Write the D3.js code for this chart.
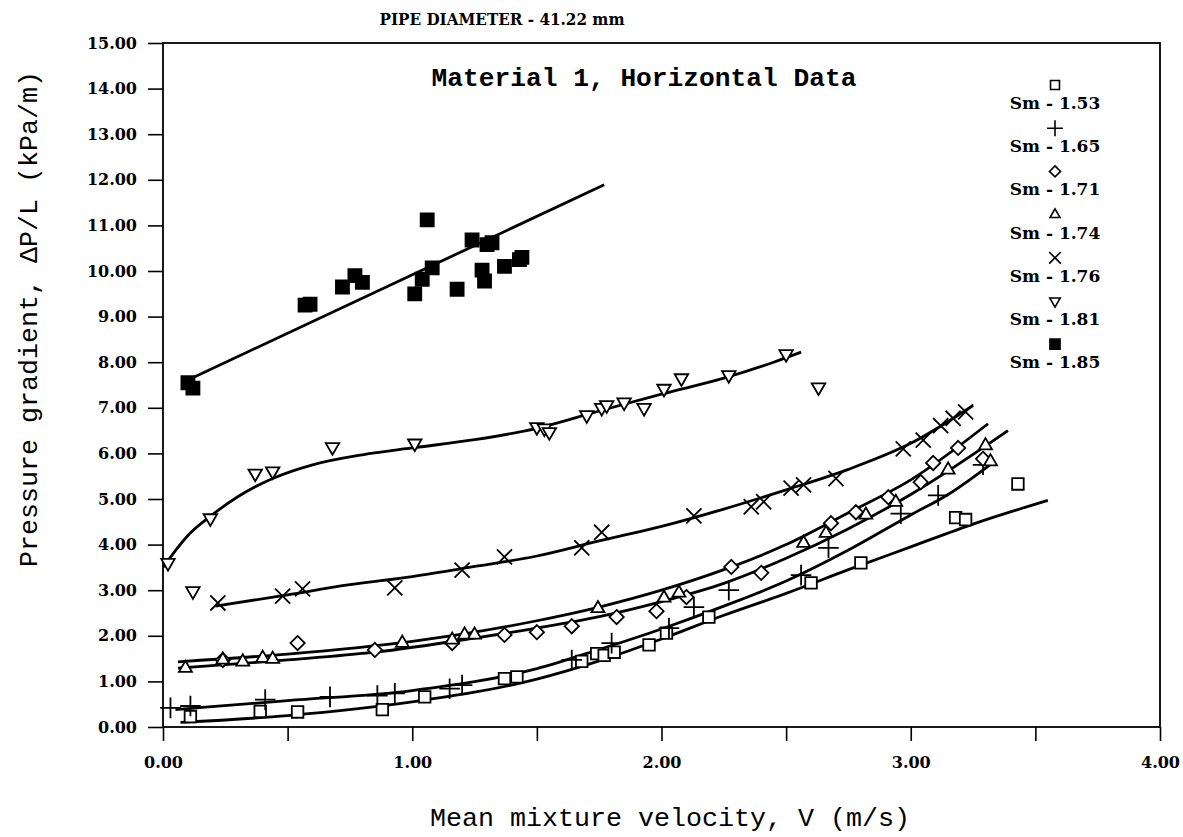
<!DOCTYPE html>
<html>
<head>
<script src="https://d3js.org/d3.v7.min.js"></script>
<style>
  body { margin: 0; background: #fff; }
  .tick text { font-family: "DejaVu Serif", serif; font-weight: bold; font-size: 16px; fill: #000; }
  .tick line { stroke: #000; stroke-width: 1.6; }
</style>
</head>
<body>
<div id="chart"></div>
<script>
// ---- data ----
var sm153 = [[0.11,0.23],[0.39,0.34],[0.54,0.33],[0.88,0.38],[1.05,0.66],[1.37,1.06],[1.42,1.1],[1.68,1.44],[1.74,1.61],[1.77,1.57],[1.81,1.64],[1.95,1.8],[2.02,2.06],[2.19,2.41],[2.60,3.16],[2.80,3.6],[3.18,4.59],[3.22,4.55],[3.43,5.33]];
var sm165 = [[0.03,0.42],[0.11,0.46],[0.41,0.6],[0.67,0.66],[0.86,0.69],[0.93,0.74],[1.15,0.84],[1.20,0.92],[1.64,1.47],[1.80,1.84],[2.03,2.17],[2.13,2.63],[2.27,3.0],[2.56,3.33],[2.67,3.93],[2.96,4.68],[3.11,5.08],[3.29,5.75]];
var sm171 = [[0.24,1.47],[0.54,1.84],[0.85,1.69],[1.16,1.84],[1.37,2.02],[1.50,2.08],[1.64,2.21],[1.82,2.41],[1.98,2.54],[2.10,2.85],[2.28,3.51],[2.40,3.38],[2.68,4.47],[2.78,4.71],[2.91,5.04],[3.04,5.37],[3.09,5.79],[3.19,6.12],[3.29,5.88]];
var sm174 = [[0.09,1.29],[0.24,1.47],[0.32,1.43],[0.40,1.51],[0.44,1.49],[0.96,1.84],[1.16,1.91],[1.21,2.02],[1.25,2.02],[1.745,2.6],[2.01,2.83],[2.07,2.94],[2.57,4.03],[2.66,4.25],[2.82,4.65],[2.94,4.93],[3.15,5.64],[3.30,6.17],[3.32,5.82]];
var sm176 = [[0.22,2.72],[0.48,2.87],[0.56,3.03],[0.93,3.05],[1.20,3.44],[1.37,3.73],[1.68,3.93],[1.76,4.27],[2.13,4.63],[2.36,4.83],[2.41,4.94],[2.52,5.24],[2.57,5.31],[2.70,5.45],[2.97,6.1],[3.05,6.29],[3.12,6.61],[3.17,6.77],[3.22,6.91]];
var sm181 = [[0.02,3.6],[0.12,2.98],[0.19,4.58],[0.37,5.56],[0.44,5.61],[0.68,6.14],[1.01,6.22],[1.50,6.58],[1.53,6.55],[1.55,6.47],[1.70,6.84],[1.76,7.0],[1.78,7.06],[1.85,7.12],[1.93,7.0],[2.01,7.42],[2.08,7.65],[2.27,7.72],[2.50,8.18],[2.63,7.45]];
var sm185 = [[0.10,7.55],[0.12,7.43],[0.57,9.25],[0.59,9.27],[0.72,9.65],[0.77,9.9],[0.80,9.75],[1.01,9.5],[1.04,9.82],[1.06,11.12],[1.08,10.07],[1.18,9.6],[1.24,10.68],[1.28,10.02],[1.29,9.78],[1.30,10.58],[1.32,10.62],[1.37,10.1],[1.43,10.25],[1.44,10.3]];

// fitted curves drawn on the figure
var fit153 = [[0.07,0.10],[0.5,0.25],[1.0,0.55],[1.5,1.05],[1.75,1.45],[2.0,1.93],[2.25,2.45],[2.5,2.93],[2.75,3.45],[3.0,3.95],[3.25,4.45],[3.55,4.97]];
var fit165 = [[0.05,0.38],[0.5,0.58],[1.0,0.8],[1.5,1.28],[1.75,1.7],[2.0,2.15],[2.25,2.65],[2.5,3.2],[2.75,3.88],[3.0,4.65],[3.15,5.1],[3.33,5.8]];
var fit171 = [[0.06,1.43],[0.5,1.6],[1.0,1.88],[1.25,2.08],[1.5,2.33],[1.75,2.63],[2.0,3.0],[2.25,3.45],[2.5,4.0],[2.75,4.7],[3.0,5.42],[3.31,6.65]];
var fit174 = [[0.06,1.29],[0.5,1.47],[0.85,1.64],[1.25,1.95],[1.5,2.17],[1.75,2.42],[2.0,2.75],[2.25,3.15],[2.5,3.7],[2.75,4.35],[3.0,5.1],[3.39,6.5]];
var fit176 = [[0.21,2.65],[0.5,2.9],[0.75,3.12],[1.0,3.3],[1.25,3.52],[1.5,3.75],[1.75,4.08],[2.0,4.4],[2.25,4.78],[2.5,5.2],[2.75,5.65],[3.0,6.22],[3.25,7.05]];
var fit181 = [[0.0,3.5],[0.05,3.87],[0.1,4.2],[0.19,4.62],[0.3,5.05],[0.44,5.45],[0.6,5.75],[0.8,5.97],[1.0,6.12],[1.25,6.3],[1.5,6.55],[1.75,6.93],[2.0,7.3],[2.25,7.65],[2.45,8.0],[2.56,8.22]];
var fit185 = [[0.10,7.61],[1.77,11.89]];

var legendLabels = ["Sm - 1.53", "Sm - 1.65", "Sm - 1.71", "Sm - 1.74", "Sm - 1.76", "Sm - 1.81", "Sm - 1.85"];
var xTicks = [0, 0.5, 1, 1.5, 2, 2.5, 3, 3.5, 4];
var yTicks = d3.range(0, 16);

var width = 1183, height = 837;
var margin = {top: 43, right: 23, bottom: 110, left: 163};

var svg = d3.select("#chart").append("svg")
    .attr("width", width)
    .attr("height", height);

var x = d3.scaleLinear().domain([0, 4]).range([margin.left, width - margin.right]);
var y = d3.scaleLinear().domain([0, 15]).range([height - margin.bottom, margin.top]);

// frame
svg.append("rect")
    .attr("x", x(0)).attr("y", y(15))
    .attr("width", x(4) - x(0)).attr("height", y(0) - y(15))
    .attr("fill", "none").attr("stroke", "#000").attr("stroke-width", 1.8);

// axes
var yAxis = svg.append("g")
    .attr("transform", "translate(" + x(0) + ",0)")
    .call(d3.axisLeft(y).tickValues(yTicks).tickFormat(d3.format(".2f")).tickSize(15).tickSizeOuter(0).tickPadding(11));
yAxis.select(".domain").remove();

var xAxis = svg.append("g")
    .attr("transform", "translate(0," + y(0) + ")")
    .call(d3.axisBottom(x).tickValues(xTicks)
        .tickFormat(function(d) { return d % 1 === 0 ? d3.format(".2f")(d) : ""; })
        .tickSize(14).tickSizeOuter(0).tickPadding(16));
xAxis.select(".domain").remove();

// titles
svg.append("text")
    .attr("x", 502).attr("y", 25)
    .attr("text-anchor", "middle")
    .attr("textLength", 245).attr("lengthAdjust", "spacingAndGlyphs")
    .style("font-family", "'DejaVu Serif', serif").style("font-weight", "bold").style("font-size", "16px")
    .text("PIPE DIAMETER - 41.22 mm");

svg.append("text")
    .attr("x", 644).attr("y", 86)
    .attr("text-anchor", "middle")
    .attr("textLength", 425).attr("lengthAdjust", "spacingAndGlyphs")
    .style("font-family", "'Liberation Mono', monospace").style("font-weight", "bold").style("font-size", "25px")
    .text("Material 1, Horizontal Data");

svg.append("text")
    .attr("x", 670).attr("y", 826)
    .attr("text-anchor", "middle")
    .attr("textLength", 480).attr("lengthAdjust", "spacingAndGlyphs")
    .style("font-family", "'Liberation Mono', monospace").style("font-size", "26px")
    .text("Mean mixture velocity, V (m/s)");

svg.append("text")
    .attr("transform", "translate(37,319) rotate(-90)")
    .attr("text-anchor", "middle")
    .attr("textLength", 496).attr("lengthAdjust", "spacingAndGlyphs")
    .style("font-family", "'Liberation Mono', monospace").style("font-size", "26px")
    .text("Pressure gradient, \u0394P/L (kPa/m)");

// fitted curves
var line = d3.line()
    .x(function(d) { return x(d[0]); })
    .y(function(d) { return y(d[1]); })
    .curve(d3.curveMonotoneX);

[fit153, fit165, fit171, fit174, fit176, fit181, fit185].forEach(function(f) {
    svg.append("path")
        .datum(f)
        .attr("d", line)
        .attr("fill", "none")
        .attr("stroke", "#000")
        .attr("stroke-width", 2.8);
});

// markers
var series = [
    {data: sm153, type: d3.symbolSquare2, size: 170, rot: 0, fill: "#fff"},
    {data: sm165, type: d3.symbolPlus, size: 140, rot: 0, fill: "none"},
    {data: sm171, type: d3.symbolDiamond2, size: 130, rot: 0, fill: "#fff"},
    {data: sm174, type: d3.symbolTriangle2, size: 120, rot: 0, fill: "#fff"},
    {data: sm176, type: d3.symbolTimes, size: 150, rot: 0, fill: "none"},
    {data: sm181, type: d3.symbolTriangle2, size: 130, rot: 180, fill: "#fff"},
    {data: sm185, type: d3.symbolSquare, size: 170, rot: 0, fill: "#000"}
];

series.forEach(function(s) {
    var sym = d3.symbol().type(s.type).size(s.size);
    svg.append("g").selectAll("path")
        .data(s.data)
        .enter()
        .append("path")
        .attr("transform", function(d) { return "translate(" + x(d[0]) + "," + y(d[1]) + ") rotate(" + s.rot + ")"; })
        .attr("d", sym)
        .attr("fill", s.fill)
        .attr("stroke", "#000")
        .attr("stroke-width", 1.8);
});

// legend
var legend = svg.append("g").attr("transform", "translate(1055,0)");
series.forEach(function(s, i) {
    var cy = 85 + i * 43.2;
    legend.append("path")
        .attr("transform", "translate(0," + cy + ") rotate(" + s.rot + ")")
        .attr("d", d3.symbol().type(s.type).size(s.size * 0.6))
        .attr("fill", s.fill)
        .attr("stroke", "#000")
        .attr("stroke-width", 1.6);
    legend.append("text")
        .attr("x", 0).attr("y", cy + 24)
        .attr("text-anchor", "middle")
        .style("font-family", "'DejaVu Serif', serif").style("font-weight", "bold").style("font-size", "17px")
        .text(legendLabels[i]);
});
</script>
</body>
</html>
